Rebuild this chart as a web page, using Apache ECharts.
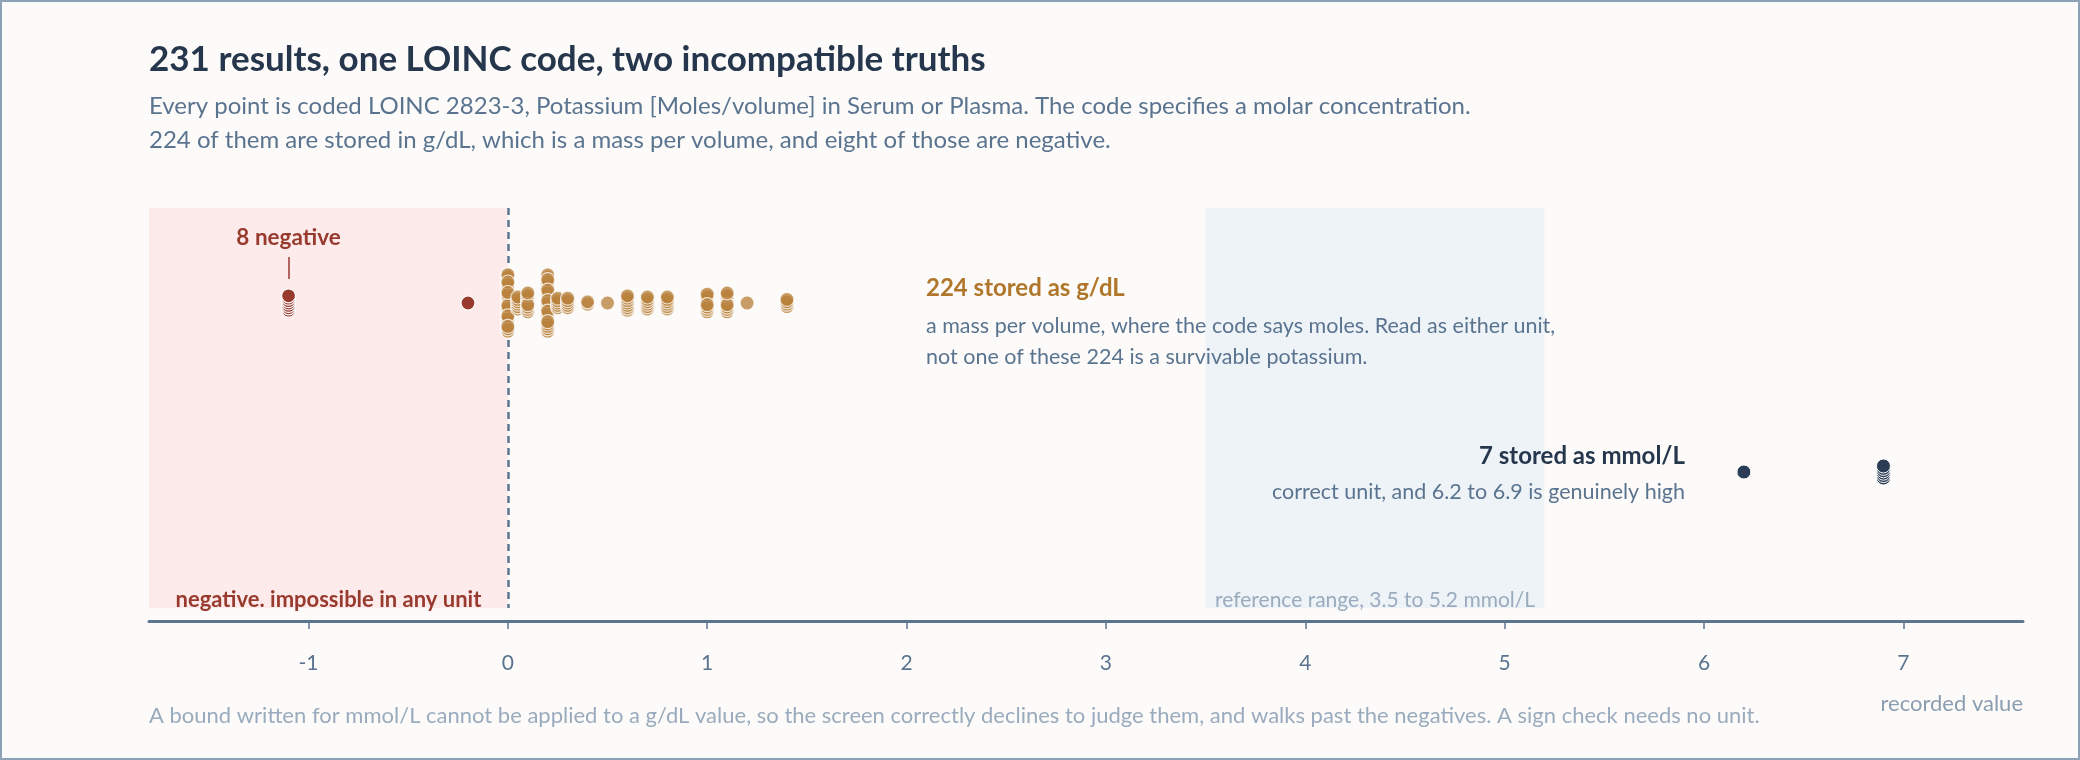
<!DOCTYPE html>
<html style="height: 100%">
<head>
    <meta charset="utf-8">
    <title>231 results, one LOINC code</title>
    <style>
        html, body { margin: 0; padding: 0; background: #fcfbf9; }
        #container { width: 2080px; height: 760px; }
        #frame { position: absolute; left: 0; top: 0; width: 2080px; height: 760px;
                 box-sizing: border-box; border: 2px solid #8ea2b7; pointer-events: none; }
    </style>
</head>
<body>
<div id="container"></div>
<div id="frame"></div>

<script src="https://cdn.jsdelivr.net/npm/echarts@6/dist/echarts.min.js"></script>
<script type="text/javascript">

var gdlValues = [0, 0.05, 0.1, 0.2, 0.25, 0.3, 0.4, 0.5, 0.6, 0.7, 0.8, 1.0, 1.1, 1.2, 1.4];
var gdlCounts = [87, 6, 9, 60, 5, 5, 2, 1, 7, 6, 6, 8, 9, 1, 4];
var negValues = [-1.1, -0.2];
var negCounts = [7, 1];
var mmolValues = [6.2, 6.9];
var mmolCounts = [1, 6];
var tickValues = [-1, 0, 1, 2, 3, 4, 5, 6, 7];
var negBand = [-1.8, 0];
var refBand = [3.5, 5.2];

var FONT = 'Lato';
var INK = '#25364d', SLATE = '#5a7490', PALE = '#9aabbe';
var GOLD = '#b8823c', RED = '#983a2e', NAVY = '#2b3c55';

// lanes in y units (hidden axis, 0 at top of the plot)
var laneGdl = 95, laneMmol = 264, bandBottom = 400;

// swarm layout: up to 5 slots per value, each slot a short pile of discs
function pile(values, counts, lane) {
    var pts = [];
    var perPile = 7, slotGap = 10.5, layerGap = 2.4;
    for (var k = 0; k < values.length; k++) {
        var n = counts[k];
        var m = Math.min(5, Math.ceil(n / perPile));
        for (var i = 0; i < n; i++) {
            var s = i % m, l = Math.floor(i / m);
            var inSlot = Math.floor(n / m) + (s < n % m ? 1 : 0);
            var L = Math.min(inSlot, perPile);
            var layer = l % perPile;
            var off = (s - (m - 1) / 2) * slotGap + ((L - 1) / 2 - layer) * layerGap;
            pts.push([values[k], lane + off]);
        }
    }
    return pts;
}

var myChart = echarts.init(document.getElementById('container'));

var option = {
    backgroundColor: '#fcfbf9',
    animation: false,
    textStyle: { fontFamily: FONT },
    title: {
        left: 149,
        top: 40,
        text: '231 results, one LOINC code, two incompatible truths',
        textStyle: { color: INK, fontSize: 35, fontWeight: 700, fontFamily: FONT, lineHeight: 40 },
        subtext: 'Every point is coded LOINC 2823-3, Potassium [Moles/volume] in Serum or Plasma. The code specifies a molar concentration.\n' +
                 '224 of them are stored in g/dL, which is a mass per volume, and eight of those are negative.',
        subtextStyle: { color: SLATE, fontSize: 24, fontFamily: FONT, lineHeight: 34 },
        itemGap: 9,
        padding: 0
    },
    grid: { left: 149, right: 57, top: 208, bottom: 139, outerBoundsMode: 'none' },
    xAxis: {
        type: 'value',
        position: 'bottom',
        min: -1.8,
        max: 7.6,
        splitLine: { show: false },
        axisLine: { onZero: false, lineStyle: { color: '#5d7690', width: 3 } },
        axisTick: { show: true, length: 8, customValues: tickValues, lineStyle: { color: '#5d7690', width: 1.5 } },
        axisLabel: { customValues: tickValues, margin: 32, color: SLATE, fontSize: 21, fontFamily: FONT }
    },
    yAxis: {
        type: 'value',
        min: 0,
        max: 413,
        inverse: true,
        show: false
    },
    series: [
        {
            name: 'g/dL',
            type: 'scatter',
            symbolSize: 14,
            z: 3,
            itemStyle: { color: GOLD, opacity: 0.78, borderColor: '#ffffff', borderWidth: 1.2 },
            emphasis: { disabled: true },
            data: pile(gdlValues, gdlCounts, laneGdl),
            markArea: {
                silent: true,
                z: 1,
                data: [
                    [{ xAxis: negBand[0], yAxis: 0, itemStyle: { color: '#fcebea' },
                       label: { show: true, position: 'insideBottom', distance: -2, formatter: 'negative. impossible in any unit',
                                color: RED, fontSize: 22, fontWeight: 700, fontFamily: FONT, lineHeight: 20 } },
                     { xAxis: negBand[1], yAxis: bandBottom }],
                    [{ xAxis: refBand[0], yAxis: 0, itemStyle: { color: '#eef3f8' },
                       label: { show: true, position: 'insideBottom', distance: -2, formatter: 'reference range, 3.5 to 5.2 mmol/L',
                                color: PALE, fontSize: 21, fontFamily: FONT, lineHeight: 20 } },
                     { xAxis: refBand[1], yAxis: bandBottom }]
                ]
            },
            markLine: {
                silent: true,
                z: 2,
                symbol: 'none',
                label: { show: false },
                data: [
                    [{ coord: [0, 0], lineStyle: { color: '#5d7690', width: 2.5, type: [7, 5] } }, { coord: [0, bandBottom] }],
                    [{ coord: [-1.1, 49], lineStyle: { color: RED, width: 1.5, type: 'solid' },
                       label: { show: true, position: 'start', distance: 8, formatter: '8 negative',
                                color: RED, fontSize: 22.5, fontWeight: 700, fontFamily: FONT } },
                     { coord: [-1.1, 71] }]
                ]
            }
        },
        {
            name: 'negative',
            type: 'scatter',
            symbolSize: 14,
            z: 4,
            itemStyle: { color: RED, opacity: 1, borderColor: '#ffffff', borderWidth: 1.2 },
            emphasis: { disabled: true },
            data: pile(negValues, negCounts, laneGdl)
        },
        {
            name: 'mmol/L',
            type: 'scatter',
            symbolSize: 14,
            z: 4,
            itemStyle: { color: NAVY, opacity: 1, borderColor: '#ffffff', borderWidth: 1 },
            emphasis: { disabled: true },
            data: pile(mmolValues, mmolCounts, laneMmol)
        }
    ],
    graphic: {
        elements: [
            { type: 'text', z: 20, x: 926, y: 288, style: { text: '224 stored as g/dL', fill: '#b0772b',
                font: '700 24px Lato', verticalAlign: 'middle' } },
            { type: 'text', z: 20, x: 926, y: 326, style: { text: 'a mass per volume, where the code says moles. Read as either unit,', fill: SLATE,
                font: '21.5px Lato', verticalAlign: 'middle' } },
            { type: 'text', z: 20, x: 926, y: 357, style: { text: 'not one of these 224 is a survivable potassium.', fill: SLATE,
                font: '21.5px Lato', verticalAlign: 'middle' } },
            { type: 'text', z: 20, x: 1685, y: 456, style: { text: '7 stored as mmol/L', fill: INK,
                font: '700 24px Lato', align: 'right', verticalAlign: 'middle' } },
            { type: 'text', z: 20, x: 1685, y: 492, style: { text: 'correct unit, and 6.2 to 6.9 is genuinely high', fill: SLATE,
                font: '21.5px Lato', align: 'right', verticalAlign: 'middle' } },
            { type: 'text', z: 20, x: 2023, y: 704, style: { text: 'recorded value', fill: '#8b9db0',
                font: '22px Lato', align: 'right', verticalAlign: 'middle' } },
            { type: 'text', z: 20, x: 149, y: 716, style: { text: 'A bound written for mmol/L cannot be applied to a g/dL value, so the screen correctly declines to judge them, and walks past the negatives. A sign check needs no unit.', fill: PALE,
                font: '22px Lato', verticalAlign: 'middle' } }
        ]
    }
};

myChart.setOption(option);
</script>
</body>
</html>
